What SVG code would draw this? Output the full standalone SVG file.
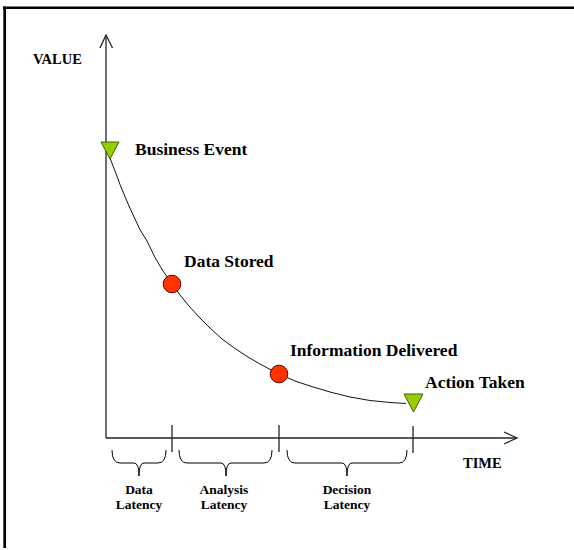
<svg xmlns="http://www.w3.org/2000/svg" width="574" height="550" viewBox="0 0 574 550">
<style>
.t{font-family:"Liberation Serif","Times New Roman",serif;font-weight:bold;fill:#000}
.big{font-size:17.5px}
.ax{font-size:14.5px}
.sm{font-size:13.5px}
.line{fill:none;stroke:#222;stroke-width:1.3}
.brace{fill:none;stroke:#000;stroke-width:1}
.tri{fill:#99CC00;stroke:#336600;stroke-width:1}
.dot{fill:#FF3300;stroke:#660000;stroke-width:1}
</style>
<rect x="0" y="0" width="574" height="550" fill="#ffffff"/>
<g id="frame">
<line x1="3" y1="7.8" x2="574" y2="7.8" stroke="#000" stroke-width="2.6"/>
<line x1="4.7" y1="6.5" x2="4.7" y2="548" stroke="#000" stroke-width="2.7"/>
</g>
<g id="axes">
<line class="line" x1="106" y1="36" x2="106" y2="438"/>
<path class="line" d="M100,48 L106,35 L112.5,48"/>
<line class="line" x1="106" y1="438" x2="516" y2="438"/>
<path class="line" d="M504,432 L517,438 L504,444"/>
<line class="line" x1="172" y1="425" x2="172" y2="452"/>
<line class="line" x1="279" y1="425" x2="279" y2="452"/>
<line class="line" x1="413" y1="426" x2="413" y2="453"/>
<text class="t ax" x="33" y="64">VALUE</text>
<text class="t ax" x="463" y="468">TIME</text>
</g>
<g id="connectors">
<path fill="none" stroke="#111" stroke-width="1" stroke-linejoin="round" d="M110,158 L113,166 L116,173.5 L120,184.6 L125,196.6 L130,208.3 L140,229.7 L147,241 L155,257.5 L163,271 L172,284 L180,295 L190,307.2 L200,318 L210,328 L222,339 L235,348.5 L248,357 L260,364 L279,374 L295,381 L310,386 L330,392 L350,397 L370,400.5 L390,402.5 L406,403.5"/>
</g>
<g id="business-event">
<polygon class="tri" points="101,142 119,142 110,159"/>
<text class="t big" x="135" y="155">Business Event</text>
</g>
<g id="data-stored">
<circle class="dot" cx="172" cy="284" r="8.8"/>
<text class="t big" x="184" y="267">Data Stored</text>
</g>
<g id="information-delivered">
<circle class="dot" cx="279" cy="374" r="8.8"/>
<text class="t big" x="290" y="356">Information Delivered</text>
</g>
<g id="action-taken">
<polygon class="tri" points="404,394 423,394 413.5,412"/>
<text class="t big" x="425" y="388">Action Taken</text>
</g>
<g id="data-latency">
<path class="brace" d="M112,450 Q112,463 120,463 L134,463 Q139,463 139,476 Q139,463 144,463 L158,463 Q166,463 166,450"/>
<text class="t sm" x="139" y="494" text-anchor="middle">Data</text>
<text class="t sm" x="139" y="509" text-anchor="middle">Latency</text>
</g>
<g id="analysis-latency">
<path class="brace" d="M179,450 Q179,463 187,463 L221,463 Q226,463 226,476 Q226,463 231,463 L264,463 Q272,463 272,450"/>
<text class="t sm" x="224" y="494" text-anchor="middle">Analysis</text>
<text class="t sm" x="224" y="509" text-anchor="middle">Latency</text>
</g>
<g id="decision-latency">
<path class="brace" d="M287,450 Q287,463 295,463 L342,463 Q347,463 347,476 Q347,463 352,463 L399,463 Q407,463 407,450"/>
<text class="t sm" x="347" y="494" text-anchor="middle">Decision</text>
<text class="t sm" x="347" y="509" text-anchor="middle">Latency</text>
</g>
</svg>
